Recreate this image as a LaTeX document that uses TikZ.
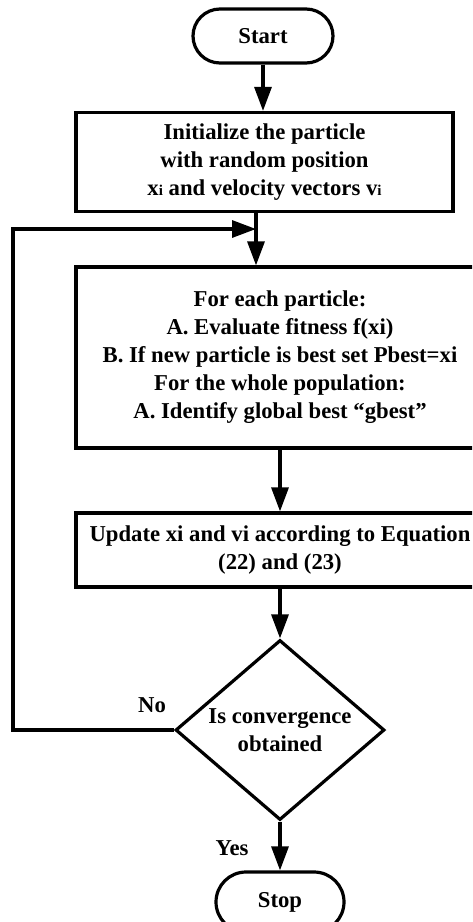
\documentclass[tikz,border=0pt]{standalone}
\usepackage{fontspec}
\setmainfont{Liberation Serif}
\usepackage{tikz}
\usetikzlibrary{positioning,shapes.geometric,arrows.meta}

\begin{document}
\begin{tikzpicture}[
					x=1pt, y=-1pt,
					font=\fontsize{22.7}{28}\selectfont\bfseries,
					box/.style={draw, line width=3.2pt, align=center, inner sep=0pt},
					term/.style={draw, line width=3.2pt, align=center, rounded corners=27pt,
						minimum width=140pt, minimum height=54pt},
					decision/.style={draw, diamond, line width=3.2pt, align=center, inner sep=0pt,
						aspect=1.16, minimum width=209pt, minimum height=180pt},
					arr/.style={-{Triangle[length=24pt 0 0, width=17pt 0 0]}, line width=3.2pt}
					]
					\useasboundingbox (0,0) rectangle (472,922);
					\clip (0,0) rectangle (472,922);
					
					\node[term] (start)  at (263,36)     {Start};
					\node[box, minimum width=377pt, minimum height=99pt] (init) at (264.5,162)
						{Initialize the particle\\ with random position\\
						x{\fontsize{15}{15}\selectfont i} and velocity vectors v{\fontsize{15}{15}\selectfont i}};
					\node[box, minimum width=408pt, minimum height=181pt] (eval) at (280,357.5)
						{For each particle:\\ A. Evaluate fitness f(xi)\\
						B. If new particle is best set Pbest=xi\\
						For the whole population:\\ A. Identify global best ``gbest''};
					\node[box, minimum width=408pt, minimum height=74pt] (update) at (280,550)
						{Update xi and vi according to Equation\\ (22) and (23)};
					\node[decision] (check)  at (280,730)    {Is convergence\\ obtained};
					\node[term, minimum width=128pt, minimum height=60pt, rounded corners=30pt]
						(stop) at (280,902) {Stop};
					\node (nolbl)  at (152,705) {No};
					\node (yeslbl) at (232,848) {Yes};
					
					\coordinate (join) at (256,229);
					\coordinate (back) at (13,229);
					
					\draw[arr] (start.south) -- (start.south |- init.north);
					\draw[arr] (init.south -| join) -- (join |- eval.north);
					\draw[arr] (eval)   -- (update);
					\draw[arr] (update) -- (check);
					\draw[arr] (check)  -- (stop);
					\draw[arr] (check.west) -| (back) -- (join);
				\end{tikzpicture}
\end{document}
